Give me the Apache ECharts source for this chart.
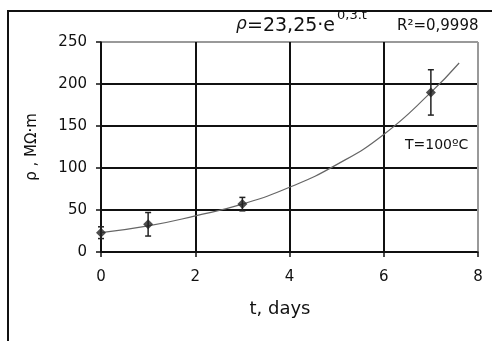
<!DOCTYPE html>
<html><head><meta charset="utf-8">
<script src="https://cdn.jsdelivr.net/npm/echarts@6/dist/echarts.min.js"></script>
<style>html,body{margin:0;padding:0;background:#fff}#c{width:492px;height:341px}</style>
</head><body><div id="c"></div>
<script>
var measT = [0, 1, 3, 7];
var measRho = [23, 33, 57, 190];
var measErr = [7, 14, 8, 27];
var fitT = [0, 1, 2, 3, 4, 5, 6, 7, 7.6];
var fitRho = [23, 31, 43, 57, 77, 104, 140, 190, 225];
var xTicks = [0, 2, 4, 6, 8];
var yTicks = [0, 50, 100, 150, 200, 250];

var F = '"DejaVu Sans", Arial, sans-serif';
var chart = echarts.init(document.getElementById('c'), null, {renderer: 'canvas'});
var gridLineColorsY = yTicks.map(function (v, i) { return i === yTicks.length - 1 ? '#999' : '#111'; });
var gridLineColorsX = xTicks.map(function (v, i) { return i === xTicks.length - 1 ? '#999' : '#111'; });

chart.setOption({
  animation: false,
  grid: {left: 101, top: 42, right: 14, bottom: 89},
  xAxis: {
    type: 'value', min: 0, max: 8, interval: 2,
    name: 't, days', nameLocation: 'middle', nameGap: 48,
    nameTextStyle: {fontFamily: F, fontSize: 18, color: '#111', padding: [0, 19, 0, 0]},
    axisLine: {show: true, lineStyle: {color: '#111', width: 1.5}},
    axisTick: {show: true, length: 5, lineStyle: {color: '#111', width: 1.5}},
    axisLabel: {fontFamily: F, fontSize: 15, color: '#111', margin: 18},
    splitLine: {show: true, lineStyle: {color: gridLineColorsX, width: 2}}
  },
  yAxis: {
    type: 'value', min: 0, max: 250, interval: 50,
    name: 'ρ , MΩ·m', nameLocation: 'middle', nameGap: 61,
    nameTextStyle: {fontFamily: F, fontSize: 15, color: '#111'},
    axisLine: {show: true, lineStyle: {color: '#111', width: 1.5}},
    axisTick: {show: true, length: 5, lineStyle: {color: '#111', width: 1.5}},
    axisLabel: {fontFamily: F, fontSize: 15, color: '#111', margin: 14},
    splitLine: {show: true, lineStyle: {color: gridLineColorsY, width: 2}}
  },
  series: [
    {
      type: 'line', data: fitT.map(function (t, i) { return [t, fitRho[i]]; }),
      smooth: true, showSymbol: false, lineStyle: {color: '#666', width: 1.2}, z: 3
    },
    {
      type: 'custom',
      data: measT.map(function (t, i) { return [t, measRho[i] - measErr[i], measRho[i] + measErr[i]]; }),
      renderItem: function (params, api) {
        var lo = api.coord([api.value(0), api.value(1)]);
        var hi = api.coord([api.value(0), api.value(2)]);
        var w = 3;
        var st = {stroke: '#222', lineWidth: 1.5};
        return {type: 'group', children: [
          {type: 'line', shape: {x1: lo[0], y1: lo[1], x2: hi[0], y2: hi[1]}, style: st},
          {type: 'line', shape: {x1: lo[0] - w, y1: lo[1], x2: lo[0] + w, y2: lo[1]}, style: st},
          {type: 'line', shape: {x1: hi[0] - w, y1: hi[1], x2: hi[0] + w, y2: hi[1]}, style: st}
        ]};
      }, z: 4
    },
    {
      type: 'scatter', data: measT.map(function (t, i) { return [t, measRho[i]]; }),
      symbol: 'diamond', symbolSize: 10, itemStyle: {color: '#222'}, z: 5
    }
  ],
  graphic: [
    {type: 'line', shape: {x1: 8, y1: 341, x2: 8, y2: 11}, style: {stroke: '#111', lineWidth: 2}},
    {type: 'line', shape: {x1: 7, y1: 11, x2: 492, y2: 11}, style: {stroke: '#111', lineWidth: 2}},
    {type: 'text', style: {x: 236, y: 25, text: 'ρ', font: 'italic 17px ' + F, fill: '#111', verticalAlign: 'middle'}},
    {type: 'text', style: {x: 247, y: 26, text: '=23,25·e', font: '19px ' + F, fill: '#111', verticalAlign: 'middle'}},
    {type: 'text', style: {x: 337, y: 16, text: '0,3.t', font: '13px ' + F, fill: '#111', verticalAlign: 'middle'}},
    {type: 'text', style: {x: 397, y: 26, text: 'R²=0,9998', font: '15px ' + F, fill: '#111', verticalAlign: 'middle'}},
    {type: 'text', style: {x: 405, y: 145, text: 'T=100ºC', font: '14px ' + F, fill: '#111', verticalAlign: 'middle'}}
  ]
});
</script></body></html>
